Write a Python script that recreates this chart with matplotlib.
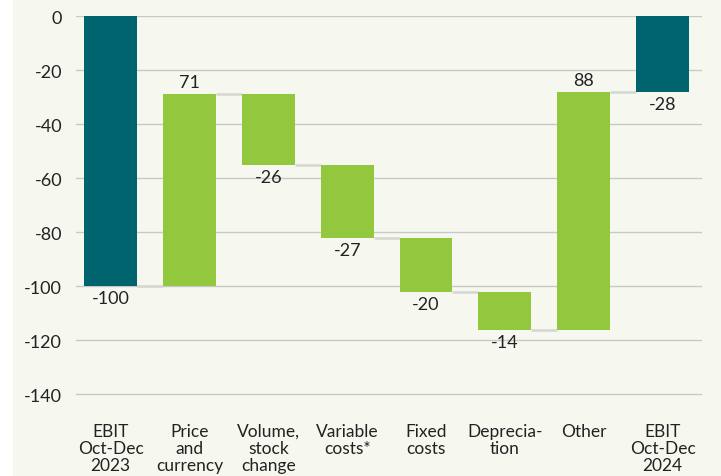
import numpy as np
import matplotlib.pyplot as plt
from matplotlib.patches import Rectangle

# categories and values (EBIT bridge)
categories = ['EBIT\nOct-Dec\n2023', 'Price\nand\ncurrency', 'Volume,\nstock\nchange',
              'Variable\ncosts*', 'Fixed\ncosts', 'Deprecia-\ntion', 'Other',
              'EBIT\nOct-Dec\n2024']
start_value = -100
changes = [71, -26, -27, -20, -14, 88]
end_value = -28

BG = '#f6f8f0'
TEAL = '#00646f'
GREEN = '#93c83e'

plt.rcParams['font.family'] = ['Lato', 'DejaVu Sans']
plt.rcParams['axes.unicode_minus'] = False

fig = plt.figure(figsize=(7.21, 4.77), dpi=100, facecolor=BG)
# white strip on the left edge
fig.patches.append(Rectangle((0, 0), 13 / 721, 1, transform=fig.transFigure,
                             facecolor='white', edgecolor='none', zorder=0))
ax = fig.add_axes([76 / 721, 1 - 422.5 / 477, (702 - 76) / 721, (422.5 - 17) / 477])
ax.set_facecolor(BG)

width = 0.67
n = len(categories)
x = np.arange(n)

# build bottoms / tops
levels = [start_value]
for c in changes:
    levels.append(levels[-1] + c)

bottoms = [0]
heights = [start_value]
colors = [TEAL]
for i, c in enumerate(changes):
    bottoms.append(levels[i])
    heights.append(c)
    colors.append(GREEN)
bottoms.append(0)
heights.append(end_value)
colors.append(TEAL)

ax.bar(x, heights, width, bottom=bottoms, color=colors, zorder=3)

# connector lines
ends = levels + [end_value]
for i in range(n - 1):
    ax.plot([x[i] + width / 2, x[i + 1] - width / 2], [ends[i], ends[i]],
            color='#d4d6d2', lw=1.8, zorder=2, solid_capstyle='butt')

# value labels
labels = [start_value] + changes + [end_value]
fs = 13
for i, v in enumerate(labels):
    top = bottoms[i] + heights[i]
    if i in (0, n - 1):
        ax.text(x[i], heights[i] - 1.5, f'{v}', ha='center', va='top', fontsize=fs,
                color='#222222')
    elif v > 0:
        ax.text(x[i], top + 1.5, f'{v}', ha='center', va='bottom', fontsize=fs,
                color='#222222')
    else:
        ax.text(x[i], top - 1.5, f'{v}', ha='center', va='top', fontsize=fs,
                color='#222222')

ax.set_xlim(-0.44, n - 0.5)
ax.set_ylim(-150, 0)
ax.set_yticks(np.arange(-140, 1, 20))
ax.yaxis.grid(True, color='#c8c8c8', lw=1, zorder=0)
ax.set_xticks(x)
ax.set_xticklabels(categories, fontsize=12.5, linespacing=1.08, color='#222222')
ax.tick_params(axis='y', labelsize=13, length=0, pad=10, labelcolor='#222222')
ax.tick_params(axis='x', length=0, pad=1)
for s in ax.spines.values():
    s.set_visible(False)

fig.savefig('out.png', dpi=100, facecolor=BG)
